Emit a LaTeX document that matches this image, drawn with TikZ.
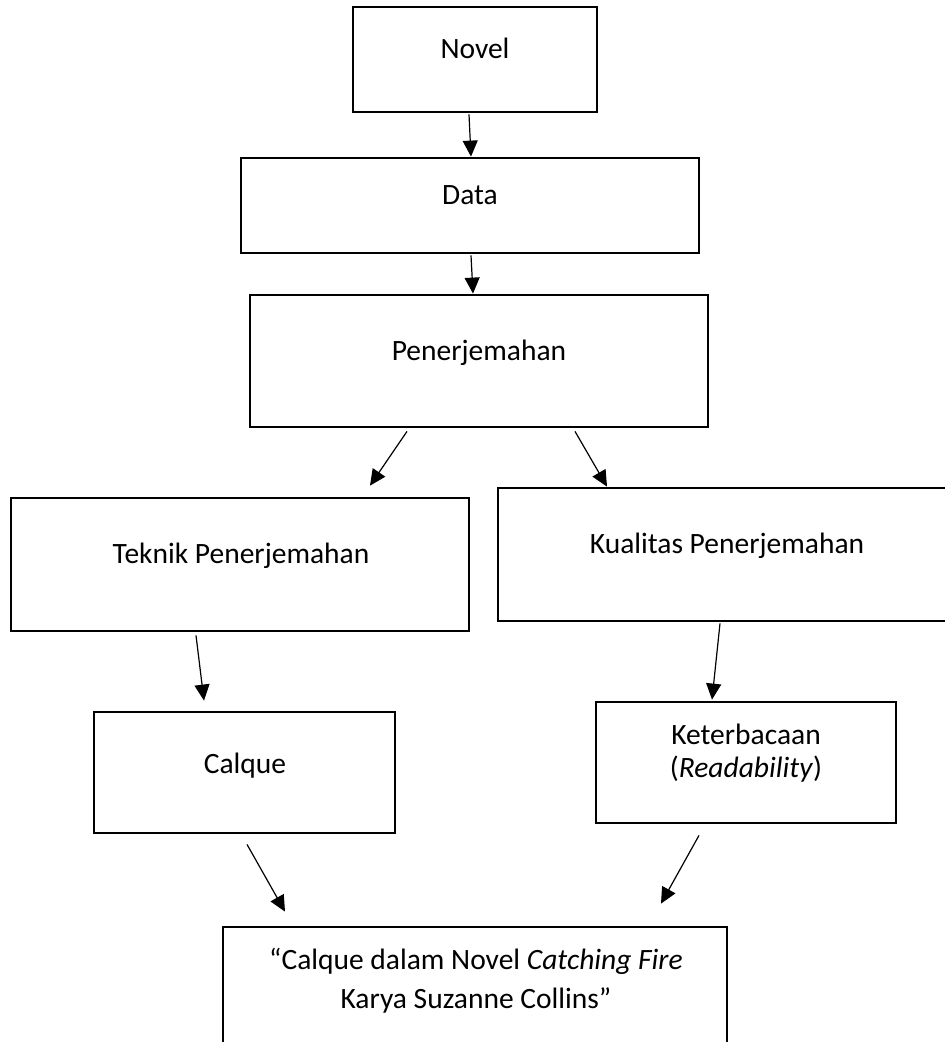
\documentclass[tikz,border=0pt]{standalone}
\usepackage{fontspec}
\setmainfont{Carlito}
\usetikzlibrary{calc,arrows.meta}
\begin{document}
\begin{tikzpicture}[x=1pt,y=-1pt,
  box/.style={draw=black,line width=2.8pt,rectangle,inner sep=0pt},
  txt/.style={inner sep=0pt,anchor=base,align=center,font=\fontsize{29.5}{33}\selectfont},
  arr/.style={line width=1.2pt,-{Triangle[length=16pt,width=15pt]}}]
\useasboundingbox (0,0) rectangle (945,1042);
% boxes
\node[box,minimum width=244pt,minimum height=105pt] (novel) at (475,59.5) {};
\node[box,minimum width=458pt,minimum height=95pt] (data) at (470,205.5) {};
\node[box,minimum width=458pt,minimum height=132pt] (pen) at (479,361) {};
\node[box,minimum width=458pt,minimum height=133pt] (teknik) at (240,564.5) {};
\node[box,minimum width=458pt,minimum height=133pt] (kual) at (727,554.5) {};
\node[box,minimum width=301pt,minimum height=121pt] (calque) at (244.5,772.5) {};
\node[box,minimum width=300pt,minimum height=121pt] (ket) at (746,762.5) {};
\node[box,minimum width=504pt,minimum height=150pt] (final) at (475,1002) {};
% texts
\node[txt] (novelT) at (475,58) {Novel};
\node[txt] (dataT) at (470,204) {Data};
\node[txt] (penT) at (479,360) {Penerjemahan};
\node[txt] (teknikT) at (241,563) {Teknik Penerjemahan};
\node[txt] (kualT) at (727,553) {Kualitas Penerjemahan};
\node[txt] (calqueT) at (245,773) {Calque};
\node[txt] (ketT) at (746,777) {Keterbacaan\\(\textit{Readability})};
\node[txt,font=\fontsize{29.5}{39}\selectfont] (finalT) at (476,1008) {“Calque dalam Novel \textit{Catching Fire}\\Karya Suzanne Collins”};
% connectors
\draw[arr] ($(novel.south)+(-6,1)$) -- ($(data.north)+(1,0)$);
\draw[arr] ($(data.south)+(1,1)$) -- ($(pen.north)+(-6,0)$);
\draw[arr] ($(pen.south)+(-72,3)$) -- ($(teknik.north)+(130,-11)$);
\draw[arr] ($(pen.south)+(96,3)$) -- ($(kual.north)+(-120,0)$);
\draw[arr] ($(teknik.south)+(-44,3)$) -- ($(calque.north)+(-40.5,-10)$);
\draw[arr] ($(kual.south)+(-7,1)$) -- ($(ket.north)+(-34,-1)$);
\draw[arr] ($(calque.south)+(2.5,10)$) -- ($(final.north)+(-190,-14)$);
\draw[arr] ($(ket.south)+(-47,11)$) -- ($(final.north)+(186,-22)$);
\end{tikzpicture}
\end{document}
